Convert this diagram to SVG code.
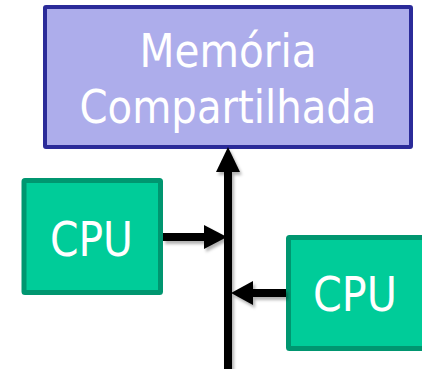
<svg xmlns="http://www.w3.org/2000/svg" width="422" height="369" viewBox="0 0 422 369">
  <defs>
    <style>
      .mem { fill: #adadeb; stroke: #2b2b99; stroke-width: 4; }
      .cpu { fill: #00cc99; stroke: #009670; stroke-width: 5; }
      .lbl { fill: #ffffff; font-family: "DejaVu Sans Condensed", "DejaVu Sans", "Liberation Sans", sans-serif; font-stretch: condensed; text-anchor: middle; }
      .bus { stroke: #000000; stroke-width: 8; fill: none; }
      .head { fill: #000000; }
    </style>
    <filter id="shadow" x="-20%" y="-20%" width="140%" height="140%">
      <feDropShadow dx="2" dy="3" stdDeviation="1.5" flood-color="#000000" flood-opacity="0.3"/>
    </filter>
  </defs>

  <!-- shared memory block -->
  <g id="memoria">
    <rect class="mem" x="45" y="7" width="366" height="140" rx="1"/>
    <text class="lbl" x="228" y="67" font-size="47" textLength="177" lengthAdjust="spacingAndGlyphs">Memória</text>
    <text class="lbl" x="228" y="123" font-size="47" textLength="297" lengthAdjust="spacingAndGlyphs">Compartilhada</text>
  </g>

  <!-- processors -->
  <g id="cpu1">
    <rect class="cpu" x="24" y="180.5" width="136.5" height="112" rx="1"/>
    <text class="lbl" x="91.5" y="256" font-size="48" textLength="83" lengthAdjust="spacingAndGlyphs">CPU</text>
  </g>
  <g id="cpu2">
    <rect class="cpu" x="288.5" y="237.5" width="137" height="111" rx="1"/>
    <text class="lbl" x="355" y="311" font-size="48" textLength="84" lengthAdjust="spacingAndGlyphs">CPU</text>
  </g>

  <!-- bus and links -->
  <g id="connectors" filter="url(#shadow)">
    <line class="bus" x1="228" y1="170" x2="228" y2="369"/>
    <polygon class="head" points="228,147 216,172 240,172"/>
    <line class="bus" x1="163" y1="237" x2="206" y2="237"/>
    <polygon class="head" points="227,237 204,225 204,249"/>
    <line class="bus" x1="286" y1="293" x2="251" y2="293"/>
    <polygon class="head" points="231,293 253,281 253,305"/>
  </g>
</svg>
